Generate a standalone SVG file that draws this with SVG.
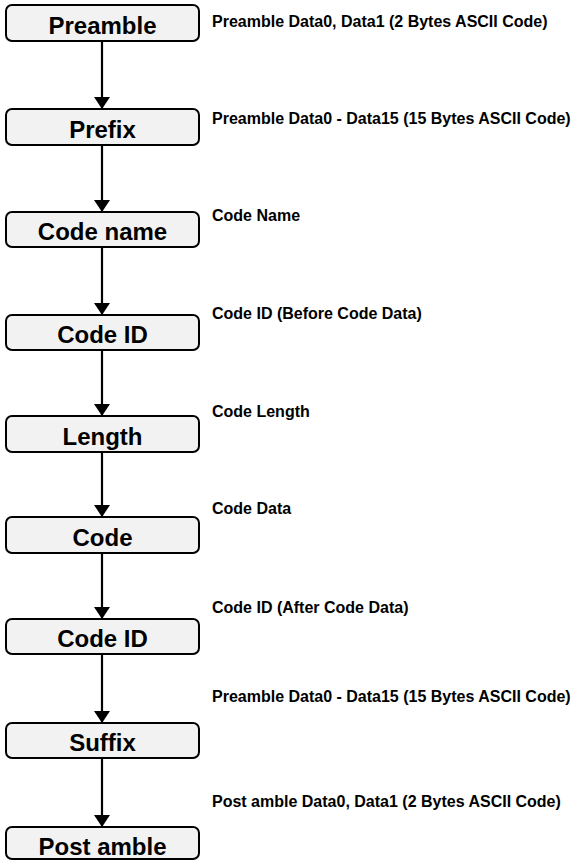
<svg xmlns="http://www.w3.org/2000/svg" width="576" height="860" viewBox="0 0 576 860">
<style>
.box{fill:#f2f2f2;stroke:#000;stroke-width:2}
.nt{font-family:"Liberation Sans",Arial,sans-serif;font-weight:bold;font-size:24px;fill:#000;text-anchor:middle}
.lb{font-family:"Liberation Sans",Arial,sans-serif;font-weight:bold;font-size:16px;fill:#000}
.conn{stroke:#000;stroke-width:2.2;fill:none}
</style>
<defs>
<marker id="ah" markerUnits="userSpaceOnUse" markerWidth="12" markerHeight="16" refX="12" refY="8" orient="auto">
<path d="M0,0 L12,8 L0,16 z" fill="#000"/>
</marker>
</defs>
<rect width="576" height="860" fill="#fff"/>
<g id="connectors">
<line class="conn" x1="102" y1="41" x2="102" y2="109" marker-end="url(#ah)"/>
<line class="conn" x1="102" y1="145" x2="102" y2="212" marker-end="url(#ah)"/>
<line class="conn" x1="102" y1="247" x2="102" y2="315" marker-end="url(#ah)"/>
<line class="conn" x1="102" y1="350" x2="102" y2="416" marker-end="url(#ah)"/>
<line class="conn" x1="102" y1="452" x2="102" y2="517" marker-end="url(#ah)"/>
<line class="conn" x1="102" y1="553" x2="102" y2="619" marker-end="url(#ah)"/>
<line class="conn" x1="102" y1="654" x2="102" y2="723" marker-end="url(#ah)"/>
<line class="conn" x1="102" y1="758" x2="102" y2="827" marker-end="url(#ah)"/>
</g>
<g id="n-preamble"><rect class="box" x="6" y="5" width="193" height="36" rx="6"/><text class="nt" x="102.5" y="33.5">Preamble</text></g>
<g id="n-prefix"><rect class="box" x="6" y="109" width="193" height="36" rx="6"/><text class="nt" x="102.5" y="137.5">Prefix</text></g>
<g id="n-codename"><rect class="box" x="6" y="212" width="193" height="35" rx="6"/><text class="nt" x="102.5" y="240">Code name</text></g>
<g id="n-codeid1"><rect class="box" x="6" y="315" width="193" height="35" rx="6"/><text class="nt" x="102.5" y="343">Code ID</text></g>
<g id="n-length"><rect class="box" x="6" y="416" width="193" height="36" rx="6"/><text class="nt" x="102.5" y="444.5">Length</text></g>
<g id="n-code"><rect class="box" x="6" y="517" width="193" height="36" rx="6"/><text class="nt" x="102.5" y="545.5">Code</text></g>
<g id="n-codeid2"><rect class="box" x="6" y="619" width="193" height="35" rx="6"/><text class="nt" x="102.5" y="647">Code ID</text></g>
<g id="n-suffix"><rect class="box" x="6" y="723" width="193" height="35" rx="6"/><text class="nt" x="102.5" y="751">Suffix</text></g>
<g id="n-postamble"><rect class="box" x="6" y="827" width="193" height="32" rx="6"/><text class="nt" x="102.5" y="854.5">Post amble</text></g>
<g id="labels">
<text class="lb" x="212" y="26.5">Preamble Data0, Data1 (2 Bytes ASCII Code)</text>
<text class="lb" x="212" y="124">Preamble Data0 - Data15 (15 Bytes ASCII Code)</text>
<text class="lb" x="212" y="221">Code Name</text>
<text class="lb" x="212" y="319">Code ID (Before Code Data)</text>
<text class="lb" x="212" y="417">Code Length</text>
<text class="lb" x="212" y="514">Code Data</text>
<text class="lb" x="212" y="613">Code ID (After Code Data)</text>
<text class="lb" x="212" y="702">Preamble Data0 - Data15 (15 Bytes ASCII Code)</text>
<text class="lb" x="212" y="807">Post amble Data0, Data1 (2 Bytes ASCII Code)</text>
</g>
</svg>
